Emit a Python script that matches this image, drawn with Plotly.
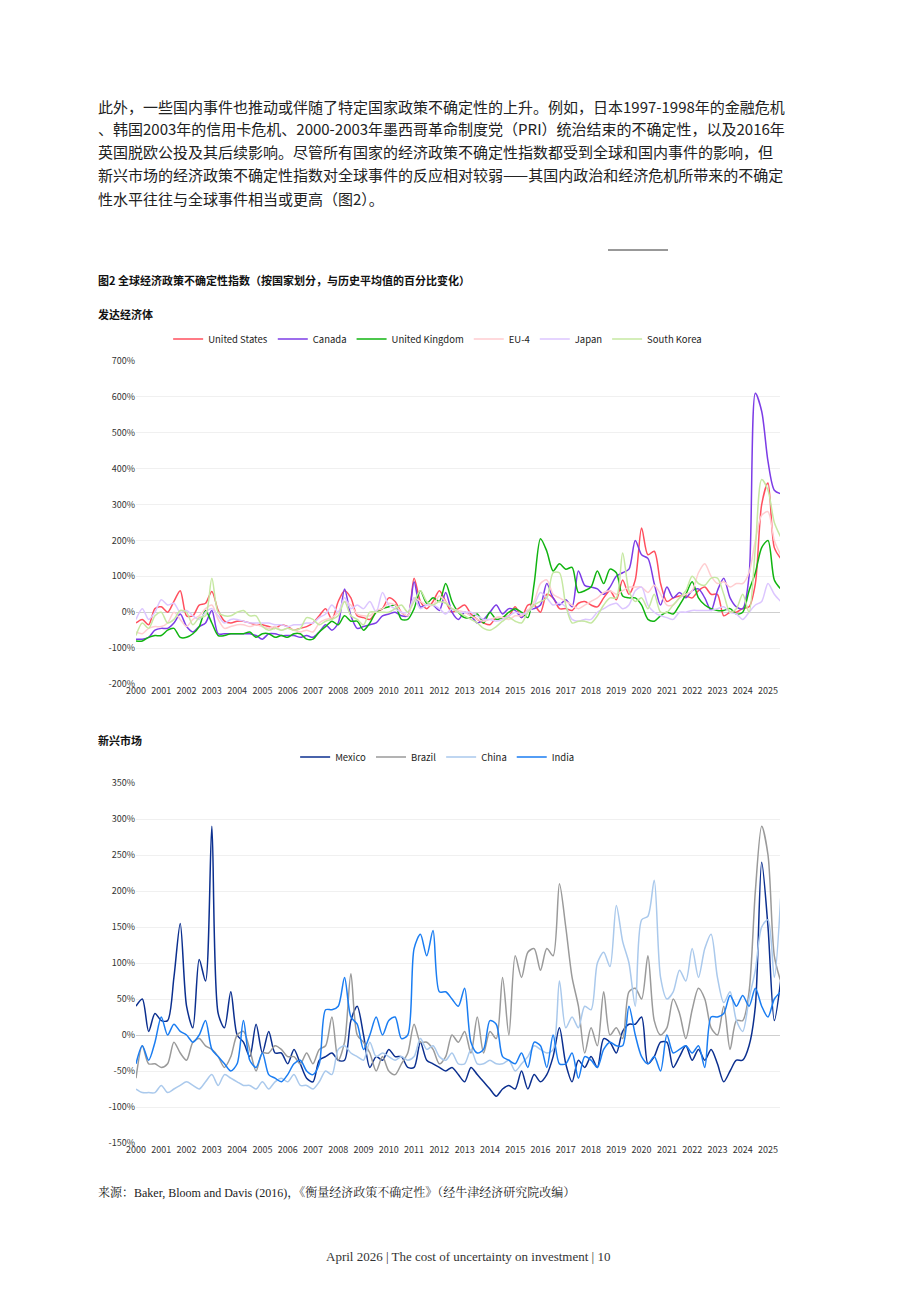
import plotly.graph_objects as go

# quarterly points starting 2000.0
us = [-30,-20,-35,10, 15,0,30,60, -10,-10,20,25, 58,5,-25,-30, -25,-25,-30,-35, -35,-40,-45,-35,
      -40,-50,-45,-40, -30,-10,10,-20, 30,60,40,-10, -15,-20,0,10, 40,30,0,-10, 95,30,10,30,
      60,30,0,10, 20,-5,-20,-30, -35,-15,-15,-10, 15,-15,20,20, 0,50,40,10, 10,5,25,30,
      20,15,40,60, 35,90,50,90, 235,160,170,80, 30,40,45,45, 40,60,70,50, 50,-10,0,0,
      10,15,80,300, 360,180,150]
canada = [-75,-75,-70,-50, -45,-45,-30,-5, -40,-55,-40,-30, 5,-60,-60,-60, -60,-60,-60,-65, -75,-60,-60,-65,
          -65,-65,-70,-65, -70,-55,-35,-50, -30,65,-10,-45, -40,-35,-30,-10, -5,0,-10,-10, 85,15,20,20,
          5,55,0,-20, 0,-10,-30,-20, 0,20,-5,10, 5,-15,5,10, 20,80,40,20, 35,15,115,75,
          70,65,50,70, 100,110,120,200, 160,150,80,20, 70,40,55,40, 60,65,40,5, 60,95,40,15,
          10,100,610,560, 420,340,330]
uk = [-80,-80,-70,-65, -65,-50,-45,-70, -70,-60,-40,5, -30,-65,-65,-60, -60,-60,-55,-70, -60,-60,-70,-65,
      -70,-60,-60,-75, -75,-55,-40,-25, -35,-10,-25,-25, -50,-30,0,10, 15,20,-20,-20, 10,60,25,40,
      30,80,30,0, -15,-15,-5,-30, 0,-20,-15,0, 10,0,-15,80, 205,170,115,135, 120,125,55,60,
      70,115,80,120, 110,45,40,40, 20,-20,-25,-10, 0,-5,20,50, 85,40,20,10, 5,5,10,-5,
      0,60,110,180, 200,90,65]
eu4 = [-55,-60,-45,-40, -40,-30,0,-20, -40,-20,-10,10, 20,-20,-45,-40, -35,-35,-40,-35, -40,-45,-40,-50,
       -45,-50,-55,-50, -55,-30,-20,-15, 0,30,20,-5, -10,-10,5,10, 25,20,0,-10, 40,30,20,20,
       45,30,10,5, 0,-10,-20,-25, -20,-15,-15,-20, -10,-10,5,30, 80,90,50,40, 30,20,10,20,
       30,40,55,60, 50,60,70,70, 70,55,75,50, 20,20,40,50, 60,110,135,100, 80,85,70,80,
       80,110,200,270, 280,200,160]
japan = [-20,10,-20,0, 35,20,25,0, 5,-10,-20,0, 10,-10,-30,-20, -20,-25,-30,-30, -30,-30,-35,-35,
         -40,-35,-35,-30, -30,-15,-5,20, 0,40,10,20, 10,30,0,55, 20,10,0,0, 40,10,20,20,
         10,-5,10,0, 0,0,-10,-20, -20,-25,-20,-10, 0,-5,0,20, 55,40,20,25, 15,-20,-25,-20,
         -20,0,10,20, 25,10,20,60, 70,20,0,-10, -15,-20,0,0, 5,5,5,5, 10,15,0,-5,
         -20,0,20,30, 80,50,30]
korea = [-65,-30,-45,-10, 0,-30,-20,5, 0,-35,-15,-10, 95,0,-10,-10, 0,5,-10,-10, -40,-50,-45,-50,
         -45,-50,-45,-15, -20,-35,-25,-20, -10,30,-10,-20, -35,0,0,0, 0,10,20,0, 30,60,30,20,
         30,25,10,0, -10,-20,-30,-45, -50,-40,-25,-15, -25,-30,0,20, 30,40,110,110, 20,-30,-25,-25,
         -30,-10,20,40, 40,165,60,30, 40,10,50,0, 0,20,40,60, 100,80,75,95, 95,50,0,10,
         50,0,180,370, 340,250,210]

mexico = [40,50,5,30, 20,20,80,155, 40,10,105,75, 290,30,10,60, 0,-10,-30,15, -25,5,-25,-25,
          -40,-20,-40,-60, -65,-35,-30,-25, -35,-35,20,40, 0,-45,-30,-35, -20,-30,-30,-45, -45,-10,-35,-40,
          -45,-50,-45,-55, -65,-45,-55,-65, -75,-85,-75,-70, -75,-50,-75,-55, -65,-55,-30,10, -40,-65,-35,-45,
          -30,-45,-5,-10, -25,5,15,15, 25,-40,-30,-10, -10,-45,-30,-15, -35,-20,-35,-20, -40,-65,-50,-35,
          -35,-15,40,240, 150,20,75]
brazil = [-60,-15,-40,-40, -45,-40,-10,-25, -35,-10,-5,-15, -20,-30,-45,-30, 0,5,-20,-50, -25,-25,-15,-20,
          -30,-30,-40,-25, -40,-20,-15,25, -35,-10,85,0, -10,-25,-50,-30, -50,-55,-40,-25, 15,-10,-10,-20,
          -40,-30,0,-10, 5,-25,25,-25, 5,-5,80,0, 110,80,115,120, 90,120,110,210, 150,80,40,-25,
          10,-15,60,0, 10,-5,60,65, 50,110,20,0, 10,50,30,-5, 35,65,50,10, 0,40,-20,20,
          20,60,200,290, 250,110,75]
china = [-75,-80,-80,-80, -70,-80,-75,-70, -65,-70,-75,-65, -55,-70,-55,-60, -65,-70,-70,-75, -65,-75,-65,-60,
         -65,-55,-70,-70, -75,-65,-50,-55, -20,-15,-25,-30, -35,-10,-30,-25, -30,-35,-30,-35, -30,-5,-20,-15,
         -30,-35,-25,-40, -40,-20,-40,-40, -35,-40,-40,-35, -50,-40,-30,-15, -20,-25,-20,75, 10,25,10,40,
         35,100,115,95, 180,130,100,40, 160,165,215,80, 50,60,90,75, 120,80,120,140, 80,45,60,20,
         5,50,90,150, 160,80,190]
india = [-40,-15,-35,-10, 25,0,15,5, 0,-10,0,20, -20,-30,-40,-50, -40,20,-35,-45, -25,-55,-60,-65,
         -55,-40,-35,-50, -55,-40,35,35, 40,80,25,15, -20,0,25,0, 20,25,-5,0, 120,140,110,145,
         60,60,50,40, 65,-10,-25,-20, 20,15,-30,-35, -40,-25,-45,-10, -15,-45,0,-40, -40,-25,-60,-30,
         -35,-45,-20,-10, -15,-15,40,0, -30,-40,-30,-50, 0,-25,-20,-15, -25,-15,-45,25, 25,30,55,40,
         55,40,65,40, 25,50,60]

years = list(range(2000, 2026))
top_ticks = [700, 600, 500, 400, 300, 200, 100, 0, -100, -200]
bot_ticks = [350, 300, 250, 200, 150, 100, 50, 0, -50, -100, -150]

top_series = [("United States", us, "#ff4f5e"), ("Canada", canada, "#7c3ce6"),
              ("United Kingdom", uk, "#10b410"), ("EU-4", eu4, "#ffcdd0"),
              ("Japan", japan, "#dcc6ff"), ("South Korea", korea, "#c6e8a2")]
bot_series = [("Mexico", mexico, "#0b2f8f"), ("Brazil", brazil, "#9a9a9a"),
              ("China", china, "#aac9ec"), ("India", india, "#1a7df2")]

W, H = 920, 1302
FONT = "Noto Sans CJK SC"

def qx(vals):
    return [2000 + i * 0.25 for i in range(len(vals))]

fig = go.Figure()
for name, vals, col in top_series:
    fig.add_trace(go.Scatter(x=qx(vals), y=vals, name=name, mode="lines",
                             line=dict(color=col, width=1.5, shape="spline", smoothing=0.8),
                             xaxis="x", yaxis="y", legend="legend"))
for name, vals, col in bot_series:
    fig.add_trace(go.Scatter(x=qx(vals), y=vals, name=name, mode="lines",
                             line=dict(color=col, width=1.5, shape="spline", smoothing=0.8),
                             xaxis="x2", yaxis="y2", legend="legend2"))

def px(x):
    return x / W

def py(y):
    return 1 - y / H

xr = [2000, 2000 + (772 - 128) / 25.28]
ax_common = dict(range=xr, tickvals=years, ticktext=[str(y) for y in years], showgrid=False,
                 zeroline=False, showline=False, ticks="", automargin=False,
                 tickfont=dict(size=9, color="#333", family=FONT), domain=[px(128), px(772)])
y_common = dict(showgrid=True, gridcolor="#f0f0f0", zeroline=True, zerolinecolor="#cfcfcf",
                zerolinewidth=1, tickfont=dict(size=9, color="#333", family=FONT),
                ticks="", showline=False, automargin=False)

fig.update_layout(
    width=W, height=H, margin=dict(l=0, r=0, t=0, b=0, autoexpand=False),
    paper_bgcolor="white", plot_bgcolor="white",
    xaxis=dict(**ax_common, anchor="y"),
    yaxis=dict(**y_common, range=[-200, 700], tickvals=top_ticks,
               ticktext=[f"{v}%" for v in top_ticks], domain=[py(676), py(353)], anchor="x"),
    xaxis2=dict(**ax_common, anchor="y2"),
    yaxis2=dict(**y_common, range=[-150, 350], tickvals=bot_ticks,
                ticktext=[f"{v}%" for v in bot_ticks], domain=[py(1135), py(775)], anchor="x2"),
    legend=dict(orientation="h", x=0.467, xanchor="center", y=py(331), yanchor="middle",
                font=dict(size=9.5, color="#222", family=FONT), itemwidth=30, tracegroupgap=0),
    legend2=dict(orientation="h", x=0.467, xanchor="center", y=py(749), yanchor="middle",
                 font=dict(size=9.5, color="#222", family=FONT), itemwidth=30),
    showlegend=True,
)

para = ["此外，一些国内事件也推动或伴随了特定国家政策不确定性的上升。例如，日本1997-1998年的金融危机",
        "、韩国2003年的信用卡危机、2000-2003年墨西哥革命制度党（PRI）统治结束的不确定性，以及2016年",
        "英国脱欧公投及其后续影响。尽管所有国家的经济政策不确定性指数都受到全球和国内事件的影响，但",
        "新兴市场的经济政策不确定性指数对全球事件的反应相对较弱——其国内政治和经济危机所带来的不确定",
        "性水平往往与全球事件相当或更高（图2）。"]
for i, line in enumerate(para):
    fig.add_annotation(x=px(88), y=py(98 + i * 23), xref="paper", yref="paper", text=line,
                       showarrow=False, xanchor="left", yanchor="middle",
                       font=dict(size=15, color="#222", family="Noto Sans CJK SC"))

def label(y, text, size, bold=False, family=FONT, x=88, anchor="left", color="#111"):
    fig.add_annotation(x=px(x), y=py(y), xref="paper", yref="paper",
                       text=f"<b>{text}</b>" if bold else text, showarrow=False,
                       xanchor=anchor, yanchor="middle", font=dict(size=size, color=color, family=family))

label(272, "图2 全球经济政策不确定性指数（按国家划分，与历史平均值的百分比变化）", 11, bold=True)
label(306, "发达经济体", 11, bold=True)
label(732, "新兴市场", 11, bold=True)
label(1184, "来源：Baker, Bloom and Davis (2016)，《衡量经济政策不确定性》（经牛津经济研究院改编）", 12,
      family="Liberation Serif, Noto Serif CJK SC, Noto Sans CJK SC", color="#222")
label(1248, "April 2026 | The cost of uncertainty on investment | 10", 13, family="Liberation Serif",
      x=460, anchor="center", color="#333")

fig.add_shape(type="line", xref="paper", yref="paper", x0=px(600), x1=px(660), y0=py(242), y1=py(242),
              line=dict(color="#333", width=1))

fig.write_html("out.html")
